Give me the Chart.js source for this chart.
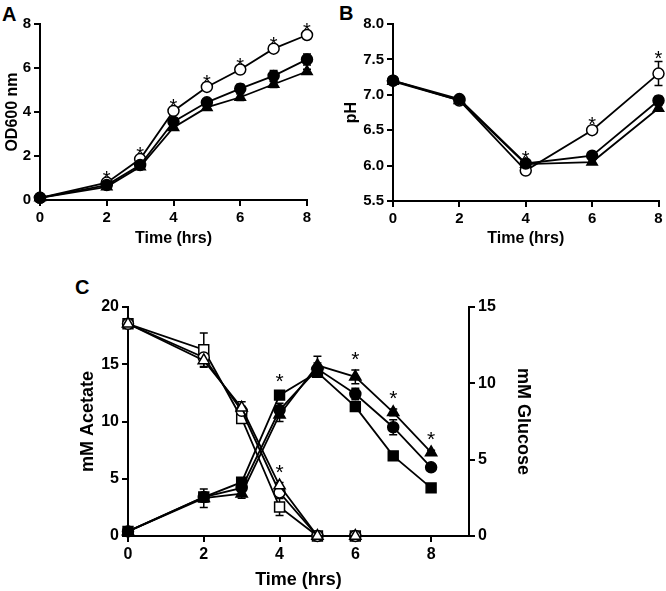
<!DOCTYPE html>
<html lang="en">
<head>
<meta charset="UTF-8">
<title>Growth, pH, acetate and glucose</title>
<script src="https://cdn.jsdelivr.net/npm/chart.js@4.4.1/dist/chart.umd.min.js"></script>
<style>
  html,body{margin:0;padding:0;background:#fff}
  body{width:666px;height:591px;position:relative;overflow:hidden;font-family:'Liberation Sans',Arial,sans-serif}
  canvas{position:absolute}
  .tag{position:absolute;font-weight:bold;font-size:20px;line-height:1;color:#000}
</style>
</head>
<body>
<div class="tag" style="left:2px;top:4px">A</div>
<div class="tag" style="left:339px;top:3px">B</div>
<div class="tag" style="left:75px;top:277px">C</div>
<canvas id="chartA" width="333" height="250" style="left:0;top:0"></canvas>
<canvas id="chartB" width="333" height="250" style="left:333px;top:0"></canvas>
<canvas id="chartC" width="666" height="331" style="left:0;top:260px"></canvas>

<script>
// A: OD600
const timeA = [0, 2, 3, 4, 5, 6, 7, 8];
const odOpen = [0.1, 0.79, 1.86, 4.05, 5.14, 5.93, 6.88, 7.5];
const odCircle = [0.1, 0.68, 1.59, 3.56, 4.44, 5.06, 5.64, 6.39];
const odCircleErr = [0, 0.05, 0.1, 0.15, 0.12, 0.2, 0.25, 0.25];
const odTri = [0.1, 0.6, 1.51, 3.3, 4.21, 4.67, 5.26, 5.84];
const odTriErr = [0, 0.05, 0.08, 0.12, 0.12, 0.15, 0.15, 0.1];
const odStars = [2, 3, 4, 5, 6, 7, 8];

// B: pH
const timeB = [0, 2, 4, 6, 8];
const phOpen = [7.2, 6.92, 5.93, 6.5, 7.3];
const phOpenErr = [0, 0, 0, 0.03, 0.17];
const phCircle = [7.2, 6.94, 6.03, 6.14, 6.92];
const phCircleErr = [0, 0.02, 0.02, 0.03, 0.06];
const phTri = [7.19, 6.92, 6.02, 6.05, 6.81];
const phTriErr = [0, 0, 0.02, 0.03, 0.04];
const phStars = [4, 6, 8];

// C: acetate (left axis, filled) and glucose (right axis, open)
const timeAc = [0, 2, 3, 4, 5, 6, 7, 8];
const acSquare = [0.4, 3.4, 4.7, 12.3, 14.3, 11.3, 7.0, 4.2];
const acSquareErr = [0, 0.3, 0.3, 0.3, 0.3, 0.3, 0.2, 0.2];
const acCircle = [0.4, 3.4, 4.2, 11.0, 14.6, 12.4, 9.5, 6.0];
const acCircleErr = [0, 0.4, 0.3, 0.6, 0.5, 0.5, 0.65, 0.2];
const acTri = [0.4, 3.3, 3.7, 10.6, 14.9, 13.9, 10.8, 7.3];
const acTriErr = [0, 0.8, 0.4, 0.6, 0.8, 0.6, 0.3, 0.2];
const timeGl = [0, 2, 3, 4, 5, 6];
const glSquare = [13.9, 12.2, 7.7, 1.9, 0, 0];
const glSquareErr = [0, 1.1, 0.3, 0.55, 0, 0];
const glCircle = [13.9, 11.7, 8.2, 2.85, 0, 0];
const glCircleErr = [0, 0.3, 0.3, 0.2, 0, 0];
const glTri = [13.9, 11.5, 8.4, 3.3, 0, 0];
const glTriErr = [0, 0.45, 0.4, 0.2, 0, 0];
const acStars = [4, 6, 7, 8];
const glStars = [4];

const FONT = "'Liberation Sans', Arial, sans-serif";
Chart.defaults.font.family = FONT;
Chart.defaults.color = '#000';

const pts = (xs, ys) => xs.map((x, i) => ({ x, y: ys[i] }));

function series(xs, ys, err, shape, filled, r, axis) {
  return {
    data: pts(xs, ys), err,
    yAxisID: axis || 'y',
    borderColor: '#000', borderWidth: 1.8, tension: 0, clip: false,
    pointStyle: shape, pointRadius: r,
    pointBackgroundColor: filled ? '#000' : '#fff',
    pointBorderColor: '#000', pointBorderWidth: 1.5
  };
}

function axis(o) {
  return {
    type: 'linear', position: o.pos, min: o.min, max: o.max,
    border: { color: '#000', width: 2 },
    grid: { drawOnChartArea: false, color: '#000', lineWidth: 2, tickLength: 6 },
    ticks: {
      stepSize: o.step, padding: 3, color: '#000',
      font: { size: o.tick, weight: 'bold' },
      callback: o.fmt || (v => v)
    },
    title: {
      display: true, text: o.title, color: '#000',
      font: { size: o.tsize, weight: 'bold' },
      padding: o.tpad
    },
    afterBuildTicks: o.keep ? s => { s.ticks = s.ticks.filter(t => o.keep(t.value)); } : undefined,
    afterFit: s => { if (o.w) s.width = o.w; if (o.h) s.height = o.h; }
  };
}

// error bars under the markers, stars over the highest mark of a group
const marks = {
  id: 'marks',
  beforeDatasetsDraw(chart) {
    const ctx = chart.ctx;
    ctx.save();
    ctx.strokeStyle = '#000';
    ctx.lineWidth = 1.5;
    chart.data.datasets.forEach((ds, i) => {
      if (!ds.err) return;
      const meta = chart.getDatasetMeta(i);
      const ys = chart.scales[meta.yAxisID];
      meta.data.forEach((pt, j) => {
        const e = ds.err[j];
        if (!e) return;
        const v = ds.data[j].y;
        const top = ys.getPixelForValue(v + e), bot = ys.getPixelForValue(v - e);
        ctx.beginPath();
        ctx.moveTo(pt.x, top); ctx.lineTo(pt.x, bot);
        ctx.moveTo(pt.x - 4, top); ctx.lineTo(pt.x + 4, top);
        ctx.moveTo(pt.x - 4, bot); ctx.lineTo(pt.x + 4, bot);
        ctx.stroke();
      });
    });
    ctx.restore();
  },
  afterDatasetsDraw(chart, args, opts) {
    const ctx = chart.ctx;
    ctx.save();
    ctx.font = opts.size + 'px ' + FONT;
    ctx.fillStyle = '#000';
    ctx.textAlign = 'center';
    ctx.textBaseline = 'alphabetic';
    (opts.stars || []).forEach(g => {
      g.xs.forEach(x => {
        let top = Infinity, px = null;
        chart.data.datasets.forEach((ds, i) => {
          const meta = chart.getDatasetMeta(i);
          if (meta.yAxisID !== g.axis) return;
          const j = ds.data.findIndex(d => d.x === x);
          if (j < 0) return;
          const e = ds.err ? ds.err[j] : 0;
          const y = Math.min(meta.data[j].y, chart.scales[meta.yAxisID].getPixelForValue(ds.data[j].y + e));
          if (y < top) { top = y; px = meta.data[j].x; }
        });
        if (px !== null) ctx.fillText('*', px, top + opts.lift);
      });
    });
    ctx.restore();
  }
};

const base = {
  responsive: false, animation: false, events: [],
};

new Chart(document.getElementById('chartA'), {
  type: 'line',
  data: { datasets: [
    series(timeA, odCircle, odCircleErr, 'circle', true, 5.5),
    series(timeA, odTri, odTriErr, 'triangle', true, 6),
    series(timeA, odOpen, null, 'circle', false, 5.5)
  ] },
  options: Object.assign({}, base, {
    layout: { padding: { top: 24, right: 26, left: 0, bottom: 0 } },
    plugins: { legend: { display: false }, tooltip: { enabled: false },
      marks: { stars: [{ axis: 'y', xs: odStars }], size: 20, lift: 2 } },
    scales: {
      x: axis({ pos: 'bottom', min: 0, max: 8, step: 2, tick: 15, title: 'Time (hrs)', tsize: 16, tpad: { top: 0, bottom: 2 }, h: 50 }),
      y: axis({ pos: 'left', min: 0, max: 8, step: 2, tick: 15, title: 'OD600 nm', tsize: 16, tpad: { top: 3, bottom: 0 }, w: 40 })
    }
  }),
  plugins: [marks]
});

new Chart(document.getElementById('chartB'), {
  type: 'line',
  data: { datasets: [
    series(timeB, phCircle, phCircleErr, 'circle', true, 5.5),
    series(timeB, phTri, phTriErr, 'triangle', true, 6),
    series(timeB, phOpen, phOpenErr, 'circle', false, 5.5)
  ] },
  options: Object.assign({}, base, {
    layout: { padding: { top: 24, right: 5, left: 0, bottom: 0 } },
    plugins: { legend: { display: false }, tooltip: { enabled: false },
      marks: { stars: [{ axis: 'y', xs: phStars }], size: 20, lift: 3 } },
    scales: {
      x: axis({ pos: 'bottom', min: 0, max: 8, step: 2, tick: 15, title: 'Time (hrs)', tsize: 16, tpad: { top: 0, bottom: 2 }, h: 49 }),
      y: axis({ pos: 'left', min: 5.5, max: 8, step: 0.5, tick: 15, title: 'pH', tsize: 16, tpad: { top: 9, bottom: 0 }, w: 60, fmt: v => v.toFixed(1) })
    }
  }),
  plugins: [marks]
});

new Chart(document.getElementById('chartC'), {
  type: 'line',
  data: { datasets: [
    series(timeAc, acSquare, acSquareErr, 'rect', true, 7),
    series(timeAc, acCircle, acCircleErr, 'circle', true, 5.5),
    series(timeAc, acTri, acTriErr, 'triangle', true, 6.5),
    series(timeGl, glTri, glTriErr, 'triangle', false, 6.5, 'y1'),
    series(timeGl, glCircle, glCircleErr, 'circle', false, 5.5, 'y1'),
    series(timeGl, glSquare, glSquareErr, 'rect', false, 7, 'y1')
  ] },
  options: Object.assign({}, base, {
    layout: { padding: { top: 47, right: 117, left: 70, bottom: 0 } },
    plugins: { legend: { display: false }, tooltip: { enabled: false },
      marks: { stars: [{ axis: 'y', xs: acStars }, { axis: 'y1', xs: glStars }], size: 21, lift: -4 } },
    scales: {
      x: axis({ pos: 'bottom', min: 0, max: 9, step: 2, tick: 16, title: 'Time (hrs)', tsize: 18, tpad: { top: 0, bottom: 0 }, h: 55, keep: v => v <= 8 }),
      y: axis({ pos: 'left', min: 0, max: 20, step: 5, tick: 16, title: 'mM Acetate', tsize: 18, tpad: { top: 7, bottom: 0 }, w: 58 }),
      y1: axis({ pos: 'right', min: 0, max: 15, step: 5, tick: 16, title: 'mM Glucose', tsize: 18, tpad: { top: 15, bottom: 0 }, w: 80 })
    }
  }),
  plugins: [marks]
});
</script>
</body>
</html>
